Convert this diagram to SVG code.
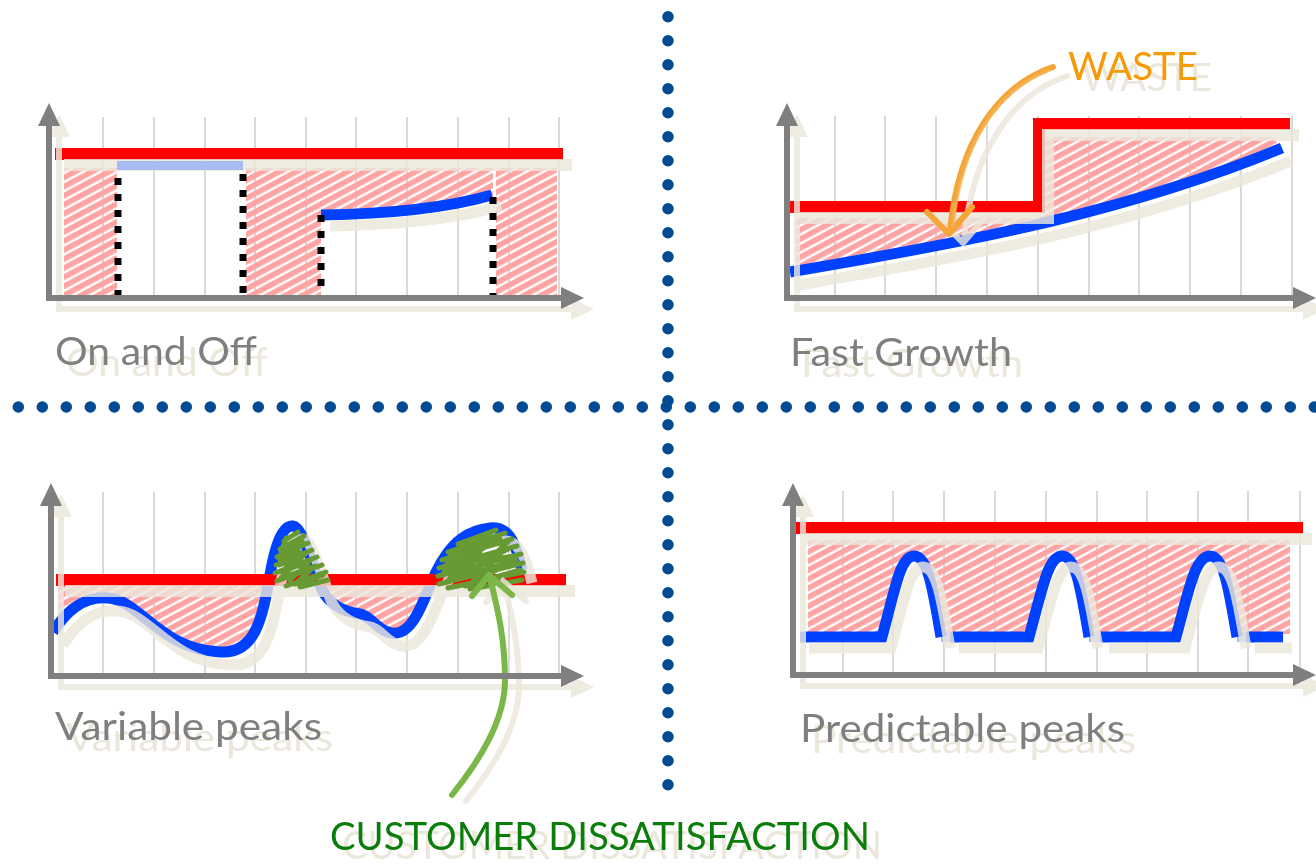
<svg xmlns="http://www.w3.org/2000/svg" xmlns:xlink="http://www.w3.org/1999/xlink" width="1316" height="864" viewBox="0 0 1316 864">
<style>
.grid{stroke:#d9d9d9;stroke-width:2;fill:none}
.axis{stroke:#7f7f7f;fill:#7f7f7f;stroke-width:6}
.ghost{stroke:#ebe7db;fill:#ebe7db;opacity:.82}
.red{stroke:#ff0000;stroke-width:12;fill:none}
.blue{stroke:#0041ff;stroke-width:11;fill:none;stroke-linecap:butt}
.ltblue{stroke:#a9bff3;stroke-width:10;fill:none}
.dash{stroke:#000;stroke-width:7;stroke-dasharray:7 9;fill:none}
.hatch{fill:url(#hatch)}
.lbl{font-family:Lato,"Open Sans","Liberation Sans",sans-serif;font-size:38px;fill:#7f7f7f}
.lblg{font-family:Lato,"Open Sans","Liberation Sans",sans-serif;font-size:38px;fill:#ebe7db}
.dots{stroke:#004b93;stroke-width:11.5;stroke-linecap:round;stroke-dasharray:0 24;fill:none}
.scrib{stroke:#679a33;stroke-width:5;stroke-linecap:round;stroke-linejoin:round;fill:none}
.garrow{stroke:#7ab648;stroke-width:6;stroke-linecap:round;stroke-linejoin:round;fill:none}
.oarrow{stroke:#f4a535;stroke-width:6;stroke-linecap:round;stroke-linejoin:round;fill:none}
</style>
<defs>
<pattern id="hatch" patternUnits="userSpaceOnUse" width="14" height="8" patternTransform="rotate(-28)">
<rect width="14" height="5.6" fill="#ffa3a3"/>
</pattern>
<g id="ax1"><path d="M49 298 V122 M46 298 H562" fill="none"/><polygon points="38,126 49,103 60,126" stroke="none"/><polygon points="561,287 584,298 561,309" stroke="none"/></g>
<g id="ax2"><path d="M787 298 V122 M784 298 H1294" fill="none"/><polygon points="776,126 787,103 798,126" stroke="none"/><polygon points="1293,287 1316,298 1293,309" stroke="none"/></g>
<g id="ax3"><path d="M51 676 V502 M48 676 H562" fill="none"/><polygon points="40,506 51,483 62,506" stroke="none"/><polygon points="561,665 584,676 561,687" stroke="none"/></g>
<g id="ax4"><path d="M793 675 V502 M790 675 H1294" fill="none"/><polygon points="782,506 793,483 804,506" stroke="none"/><polygon points="1293,664 1316,675 1293,686" stroke="none"/></g>
<path id="r1" d="M55 154 H563" fill="none"/>
<path id="b1" d="M321 215 C 390 214, 450 207, 492 195" fill="none"/>
<path id="r2" d="M787 207 H1039 V124 H1290" fill="none"/>
<path id="b2" d="M790 272 C 950 245, 1120 215, 1282 148" fill="none"/>
<path id="r3" d="M56 580 H566" fill="none"/>
<path id="b3" d="M53 632 C 70 605, 90 596, 108 598 C 140 600, 160 650, 220 652 C 255 654, 262 620, 270 575 C 276 540, 284 525, 293 526 C 303 527, 312 565, 322 590 C 330 605, 345 612, 360 614 C 372 616, 380 635, 396 633 C 415 632, 425 595, 436 572 C 452 540, 470 530, 490 528 C 510 526, 516 545, 522 570" fill="none"/>
<path id="r4" d="M795 528 H1303" fill="none"/>
<path id="b4" d="M800 637 H882 C 895 590, 900 556, 914 556 C 928 556, 933 590, 941 637 M950 637 H1029 C 1042 590, 1048 556, 1062 556 C 1076 556, 1081 590, 1089 637 M1100 637 H1176 C 1189 590, 1195 556, 1210 556 C 1224 556, 1229 590, 1237 637 M1246 637 H1283" fill="none"/>
<clipPath id="c3"><path d="M53 632 C 70 605, 90 596, 108 598 C 140 600, 160 650, 220 652 C 255 654, 262 620, 270 575 C 276 540, 284 525, 293 526 C 303 527, 312 565, 322 590 C 330 605, 345 612, 360 614 C 372 616, 380 635, 396 633 C 415 632, 425 595, 436 572 C 452 540, 470 530, 490 528 C 510 526, 516 545, 522 570 L523 470 L53 470 Z"/></clipPath>
<clipPath id="c4"><path clip-rule="evenodd" d="M808 540 H1290 V634 H808 Z M882 640 C 895 590, 900 556, 914 556 C 928 556, 933 590, 941 640 Z M1029 640 C 1042 590, 1048 556, 1062 556 C 1076 556, 1081 590, 1089 640 Z M1176 640 C 1189 590, 1195 556, 1210 556 C 1224 556, 1229 590, 1237 640 Z"/></clipPath>
</defs>

<g id="dividers">
<line class="dots" x1="18.3" y1="407" x2="1315" y2="407"/>
<line class="dots" x1="668" y1="16.7" x2="668" y2="786"/>
</g>

<g id="on-and-off">
<path class="grid" d="M103 117V298 M154 117V298 M205 117V298 M255 117V298 M306 117V298 M356 117V298 M407 117V298 M458 117V298 M509 117V298 M559 117V298"/>
<rect class="hatch" x="64" y="168" width="53" height="128"/>
<rect class="hatch" x="246" y="168" width="75" height="128"/>
<path class="hatch" d="M321 168 H493 V196 C 450 207, 390 214, 321 215 Z"/>
<rect class="hatch" x="496" y="168" width="61" height="128"/>
<use xlink:href="#b1" class="blue"/>
<use xlink:href="#r1" class="red"/>
<g class="ghost">
<use xlink:href="#r1" transform="translate(9,11)" stroke-width="12"/>
<use xlink:href="#b1" transform="translate(9,11)" stroke-width="11"/>
<use xlink:href="#ax1" transform="translate(10,11)" stroke-width="6"/>
</g>
<rect x="117" y="161" width="126" height="9" fill="#a6bcf2"/>
<path class="dash" d="M118 178 V298 M243 174 V298 M321 215 V298 M493 197 V298"/>
<use xlink:href="#ax1" class="axis"/>
<text class="lblg" x="66" y="376" textLength="202" lengthAdjust="spacingAndGlyphs">On and Off</text>
<text class="lbl" x="55" y="365" textLength="202" lengthAdjust="spacingAndGlyphs">On and Off</text>
</g>

<g id="fast-growth">
<path class="grid" d="M835 116V298 M885 116V298 M936 116V298 M987 116V298 M1038 116V298 M1089 116V298 M1139 116V298 M1190 116V298 M1241 116V298 M1292 116V298"/>
<path class="hatch" d="M796 218 H1040 V137 H1272 L1282 148 C 1120 215, 950 245, 796 271 Z"/>
<use xlink:href="#b2" class="blue"/>
<use xlink:href="#r2" class="red"/>
<g class="ghost">
<use xlink:href="#r2" transform="translate(9,11)" stroke-width="12"/>
<use xlink:href="#b2" transform="translate(9,13)" stroke-width="11"/>
<use xlink:href="#ax2" transform="translate(10,11)" stroke-width="6"/>
</g>
<use xlink:href="#ax2" class="axis"/>
<text class="lblg" x="801" y="377" textLength="222" lengthAdjust="spacingAndGlyphs">Fast Growth</text>
<text class="lbl" x="790" y="366" textLength="222" lengthAdjust="spacingAndGlyphs">Fast Growth</text>
</g>

<g id="waste">
<g class="ghost" transform="translate(14,9)" stroke-width="6" stroke-linecap="round" stroke-linejoin="round" fill="none">
<path d="M1053 67 C 1000 85, 958 140, 950 232 M927 212 L949 234 L972 207" fill="none"/>
</g>
<path class="oarrow" d="M1053 67 C 1000 85, 958 140, 950 232 M927 212 L949 234 L972 207"/>
<path d="M1050 70 C 998 90, 962 140, 953 228" stroke="#f7b860" stroke-width="3" fill="none" opacity=".7"/>
<text class="lblg" x="1082" y="91" textLength="130" lengthAdjust="spacingAndGlyphs">WASTE</text>
<text x="1068" y="80" textLength="130" lengthAdjust="spacingAndGlyphs" style="font-family:Lato,'Open Sans','Liberation Sans',sans-serif;font-size:38px;fill:#f79a0a">WASTE</text>
</g>

<g id="variable-peaks">
<path class="grid" d="M103 492V676 M154 492V676 M205 492V676 M255 492V676 M306 492V676 M356 492V676 M407 492V676 M458 492V676 M509 492V676 M559 492V676"/>
<rect class="hatch" x="58" y="586" width="480" height="80" clip-path="url(#c3)"/>
<use xlink:href="#b3" class="blue" stroke-width="12"/>
<use xlink:href="#r3" class="red"/>
<g class="ghost">
<use xlink:href="#r3" transform="translate(9,11)" stroke-width="12"/>
<use xlink:href="#b3" transform="translate(10,13)" stroke-width="11"/>
<use xlink:href="#ax3" transform="translate(10,11)" stroke-width="6"/>
</g>
<path class="scrib" d="M284 541 L298 532 M280 549 L304 536 M277 557 L308 543 M276 565 L312 550 M275 573 L317 557 M277 581 L322 565 M286 586 L326 572 M300 587 L328 580 M290 548 L280 560 L300 552 L282 572 L310 561 L290 580 M286 538 L281 552 L302 541 L279 565 L306 553 L281 578 L315 566 L295 584 L323 575"/>
<path class="scrib" d="M458 544 L496 530 M448 552 L505 533 M442 560 L512 539 M439 568 L517 546 M438 576 L521 554 M439 584 L523 563 M448 588 L524 572 M470 589 L522 580 M460 550 L446 565 L480 552 L450 578 L495 560 L470 584 M470 540 L450 556 L500 538 L444 572 L510 548 L446 582 L516 560 L465 586 L520 570 M490 534 L468 548 L508 542 L488 560 L514 556"/>
<g class="ghost" transform="translate(14,6)" stroke-width="6" fill="none" stroke-linecap="round">
<path d="M452 795 C 480 760, 505 720, 505 680 C 505 640, 498 610, 490 578 M472 596 L489 575 L512 595" fill="none"/>
</g>
<path class="garrow" d="M452 795 C 480 760, 505 720, 505 680 C 505 640, 498 610, 490 578 M472 596 L489 575 L512 595"/>
<use xlink:href="#ax3" class="axis"/>
<text class="lblg" x="66" y="751" textLength="267" lengthAdjust="spacingAndGlyphs">Variable peaks</text>
<text class="lbl" x="55" y="740" textLength="267" lengthAdjust="spacingAndGlyphs">Variable peaks</text>
</g>

<g id="customer-dissatisfaction">
<text class="lblg" x="342" y="859" textLength="540" lengthAdjust="spacingAndGlyphs">CUSTOMER DISSATISFACTION</text>
<text x="330" y="850" textLength="540" lengthAdjust="spacingAndGlyphs" style="font-family:Lato,'Open Sans','Liberation Sans',sans-serif;font-size:38px;fill:#0a7d0a">CUSTOMER DISSATISFACTION</text>
</g>

<g id="predictable-peaks">
<path class="grid" d="M843 491V675 M893 491V675 M944 491V675 M995 491V675 M1046 491V675 M1097 491V675 M1147 491V675 M1198 491V675 M1248 491V675 M1300 491V675"/>
<rect class="hatch" x="808" y="540" width="482" height="94" clip-path="url(#c4)"/>
<path class="ltblue" d="M941 637 H950 M1089 637 H1100 M1237 637 H1246"/>
<use xlink:href="#b4" class="blue" stroke-width="12"/>
<use xlink:href="#r4" class="red"/>
<g class="ghost">
<use xlink:href="#r4" transform="translate(9,11)" stroke-width="12"/>
<use xlink:href="#b4" transform="translate(9,11)" stroke-width="11"/>
<use xlink:href="#ax4" transform="translate(10,11)" stroke-width="6"/>
</g>
<use xlink:href="#ax4" class="axis"/>
<text class="lblg" x="811" y="753" textLength="325" lengthAdjust="spacingAndGlyphs">Predictable peaks</text>
<text class="lbl" x="800" y="742" textLength="325" lengthAdjust="spacingAndGlyphs">Predictable peaks</text>
</g>
</svg>
